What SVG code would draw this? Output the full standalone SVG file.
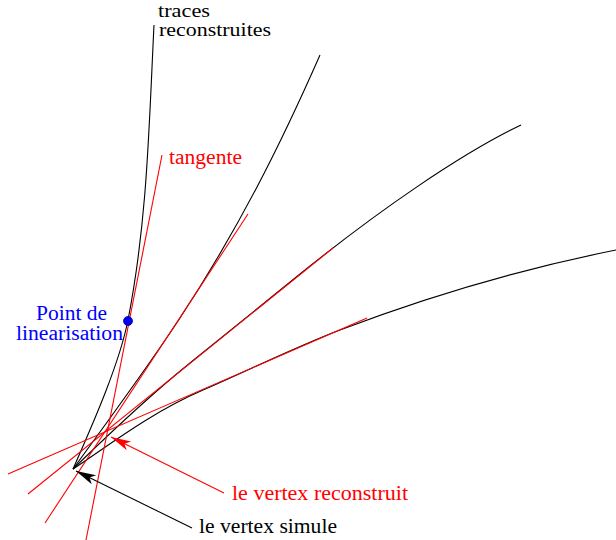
<svg xmlns="http://www.w3.org/2000/svg" width="616" height="540" viewBox="0 0 616 540">
<defs>
<style>
.t{font-family:"Liberation Serif","Times New Roman",serif;font-size:20px}
.s{font-size:18px}
.trk{fill:none;stroke:#000;stroke-width:1.1}
.tan{fill:none;stroke:#f00;stroke-width:1.1}
</style>
<marker id="ahK" markerUnits="userSpaceOnUse" markerWidth="24" markerHeight="14" viewBox="-21 -7 24 14" refX="0" refY="0" orient="auto">
<path d="M0,0 L-20,-5 L-15,0 L-20,5 Z" fill="#000"/>
</marker>
<marker id="ahR" markerUnits="userSpaceOnUse" markerWidth="24" markerHeight="14" viewBox="-21 -7 24 14" refX="0" refY="0" orient="auto">
<path d="M0,0 L-20,-5 L-15,0 L-20,5 Z" fill="#f00"/>
</marker>
</defs>
<rect width="616" height="540" fill="#fff"/>
<g id="connectors">
<g id="tracks">
<path class="trk" d="M73,469 C91,428 119.2,365 128,320 C147.5,220 149,125 154,25"/>
<path class="trk" d="M73,469 C103,428 153.8,358 180,318 C239,228 280.4,145 320,55"/>
<path class="trk" d="M73,469 C110,433 150,395.2 190,363 L300,274 C380,209.6 461,153.8 521,125"/>
<path class="trk" d="M73,469 C108,446 150,412.9 203,390 C248,370.6 295,347.1 340,330 C430,295.8 526,268 616,250"/>
</g>
<g id="tangents">
<line class="tan" x1="86" y1="540" x2="162" y2="155"/>
<line class="tan" x1="45" y1="523" x2="248" y2="214"/>
<line class="tan" x1="28" y1="494" x2="333" y2="248"/>
<line class="tan" x1="8" y1="474" x2="367" y2="318"/>
</g>
<line x1="224" y1="493" x2="111" y2="437" stroke="#f00" stroke-width="1.1" marker-end="url(#ahR)"/>
<line x1="192" y1="528" x2="76" y2="471" stroke="#000" stroke-width="1.1" marker-end="url(#ahK)"/>
</g>
<g id="point">
<circle cx="128" cy="321" r="4.5" fill="#00f" stroke="#00008b" stroke-width="0.8"/>
</g>
<g id="labels">
<text class="t s" x="158" y="16.5" textLength="52" lengthAdjust="spacingAndGlyphs">traces</text>
<text class="t s" x="159" y="36" textLength="112" lengthAdjust="spacingAndGlyphs">reconstruites</text>
<text class="t" x="169" y="164" fill="#f00" textLength="73" lengthAdjust="spacingAndGlyphs">tangente</text>
<text class="t" x="36" y="320" fill="#00f" textLength="71" lengthAdjust="spacingAndGlyphs">Point de</text>
<text class="t" x="16" y="340" fill="#00f" textLength="107" lengthAdjust="spacingAndGlyphs">linearisation</text>
<text class="t" x="232" y="500" fill="#f00" textLength="176" lengthAdjust="spacingAndGlyphs">le vertex reconstruit</text>
<text class="t" x="199" y="533" textLength="138" lengthAdjust="spacingAndGlyphs">le vertex simule</text>
</g>
</svg>
